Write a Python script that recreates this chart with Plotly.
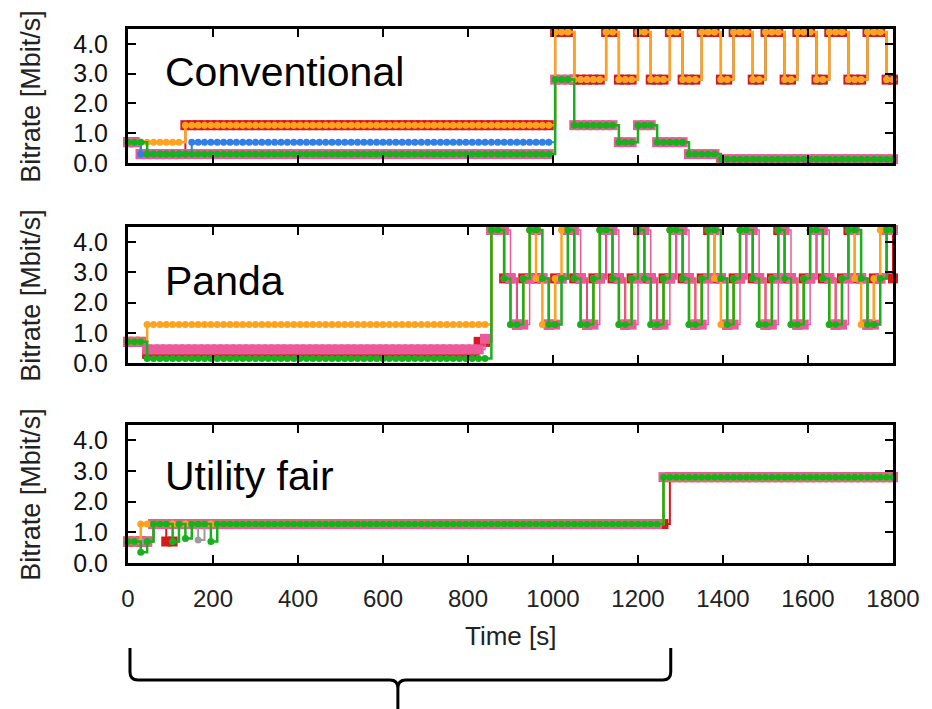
import plotly.graph_objects as go

# ---------------- data (change points: time [s], bitrate [Mbit/s]) -------------
tick_vals_x = [0, 200, 400, 600, 800, 1000, 1200, 1400, 1600, 1800]
tick_vals_y = [0, 1, 2, 3, 4]
tick_text_y = ["0.0", "1.0", "2.0", "3.0", "4.0"]
panel_names = ["Conventional", "Panda", "Utility fair"]

# Conventional
conv_red_t = [0, 30, 125, 1000, 1050, 1115, 1150, 1195, 1225, 1265, 1305, 1350, 1385, 1425, 1460, 1495, 1535, 1575, 1615, 1640, 1690, 1730, 1775]
conv_red_v = [0.7, 0.3, 1.27, 4.4, 2.8, 4.4, 2.8, 4.4, 2.8, 4.4, 2.8, 4.4, 2.8, 4.4, 2.8, 4.4, 2.8, 4.4, 2.8, 4.4, 2.8, 4.4, 2.8]
conv_mag_t = [0, 30, 1000, 1045, 1145, 1195, 1235, 1310, 1390]
conv_mag_v = [0.7, 0.3, 2.8, 1.27, 0.7, 1.27, 0.7, 0.3, 0.13]
conv_blue_t = [0, 30, 140, 1000, 1047, 1114, 1149, 1191, 1222, 1265, 1304, 1347, 1382, 1421, 1460, 1491, 1534, 1573, 1612, 1639, 1686, 1728, 1771]
conv_blue_v = [0.7, 0.3, 0.7, 4.4, 2.8, 4.4, 2.8, 4.4, 2.8, 4.4, 2.8, 4.4, 2.8, 4.4, 2.8, 4.4, 2.8, 4.4, 2.8, 4.4, 2.8, 4.4, 2.8]
conv_orange_t = [0, 125, 1000, 1047, 1114, 1149, 1191, 1222, 1265, 1304, 1347, 1382, 1421, 1460, 1491, 1534, 1573, 1612, 1639, 1686, 1728, 1771]
conv_orange_v = [0.7, 1.27, 4.4, 2.8, 4.4, 2.8, 4.4, 2.8, 4.4, 2.8, 4.4, 2.8, 4.4, 2.8, 4.4, 2.8, 4.4, 2.8, 4.4, 2.8, 4.4, 2.8]
conv_green_t = [0, 35, 1000, 1045, 1145, 1195, 1235, 1310, 1390]
conv_green_v = [0.7, 0.3, 2.8, 1.27, 0.7, 1.27, 0.7, 0.3, 0.13]

# Panda
panda_red_t = [0, 45, 825, 855, 875, 905, 920, 950, 960, 990, 1005, 1035, 1045, 1070, 1090, 1115, 1130, 1160, 1175, 1200, 1210, 1240, 1255, 1280, 1295, 1325, 1340, 1365, 1380, 1410, 1420, 1445, 1460, 1490, 1505, 1530, 1540, 1570, 1585, 1610, 1625, 1655, 1670, 1695, 1710, 1740, 1755, 1780, 1795]
panda_red_v = [0.7, 0.3, 0.7, 4.4, 2.8, 1.27, 2.8, 4.4, 2.8, 1.27, 2.8, 4.4, 2.8, 1.27, 2.8, 4.4, 2.8, 1.27, 2.8, 4.4, 2.8, 1.27, 2.8, 4.4, 2.8, 1.27, 2.8, 4.4, 2.8, 1.27, 2.8, 4.4, 2.8, 1.27, 2.8, 4.4, 2.8, 1.27, 2.8, 4.4, 2.8, 1.27, 2.8, 4.4, 2.8, 1.27, 2.8, 4.4, 2.8]
panda_mag_t = [0, 45, 830, 855, 890, 905, 935, 950, 975, 990, 1020, 1035, 1055, 1070, 1105, 1120, 1145, 1160, 1190, 1205, 1225, 1240, 1270, 1285, 1310, 1325, 1355, 1370, 1395, 1410, 1435, 1450, 1475, 1490, 1520, 1535, 1555, 1570, 1600, 1615, 1640, 1655, 1685, 1700, 1725, 1740, 1770, 1785]
panda_mag_v = [0.7, 0.45, 0.8, 4.4, 2.8, 1.27, 2.8, 4.4, 2.8, 1.27, 2.8, 4.4, 2.8, 1.27, 2.8, 4.4, 2.8, 1.27, 2.8, 4.4, 2.8, 1.27, 2.8, 4.4, 2.8, 1.27, 2.8, 4.4, 2.8, 1.27, 2.8, 4.4, 2.8, 1.27, 2.8, 4.4, 2.8, 1.27, 2.8, 4.4, 2.8, 1.27, 2.8, 4.4, 2.8, 1.27, 2.8, 4.4]
panda_orange_t = [0, 40, 850, 875, 890, 920, 935, 960, 975, 1005, 1020, 1040, 1055, 1090, 1105, 1130, 1145, 1175, 1190, 1210, 1225, 1255, 1270, 1295, 1310, 1340, 1355, 1380, 1395, 1420, 1435, 1460, 1475, 1505, 1520, 1540, 1555, 1585, 1600, 1625, 1640, 1670, 1685, 1710, 1725, 1755, 1770]
panda_orange_v = [0.7, 1.27, 4.4, 2.8, 1.27, 2.8, 4.4, 2.8, 1.27, 2.8, 4.4, 2.8, 1.27, 2.8, 4.4, 2.8, 1.27, 2.8, 4.4, 2.8, 1.27, 2.8, 4.4, 2.8, 1.27, 2.8, 4.4, 2.8, 1.27, 2.8, 4.4, 2.8, 1.27, 2.8, 4.4, 2.8, 1.27, 2.8, 4.4, 2.8, 1.27, 2.8, 4.4, 2.8, 1.27, 2.8, 4.4]
panda_green_t = [0, 40, 850, 880, 895, 925, 940, 965, 980, 1010, 1025, 1045, 1060, 1095, 1110, 1135, 1150, 1180, 1195, 1215, 1230, 1260, 1275, 1300, 1315, 1345, 1360, 1385, 1400, 1425, 1440, 1465, 1480, 1510, 1525, 1545, 1560, 1590, 1605, 1630, 1645, 1675, 1690, 1715, 1730, 1760, 1775]
panda_green_v = [0.7, 0.15, 4.4, 2.8, 1.27, 2.8, 4.4, 2.8, 1.27, 2.8, 4.4, 2.8, 1.27, 2.8, 4.4, 2.8, 1.27, 2.8, 4.4, 2.8, 1.27, 2.8, 4.4, 2.8, 1.27, 2.8, 4.4, 2.8, 1.27, 2.8, 4.4, 2.8, 1.27, 2.8, 4.4, 2.8, 1.27, 2.8, 4.4, 2.8, 1.27, 2.8, 4.4, 2.8, 1.27, 2.8, 4.4]

# Utility fair
uf_red_t = [0, 60, 90, 120, 1265]
uf_red_v = [0.7, 1.27, 0.7, 1.27, 2.8]
uf_mag_t = [0, 55, 1260]
uf_mag_v = [0.7, 1.27, 2.8]
uf_grey_t = [0, 60, 165, 180, 1260]
uf_grey_v = [0.7, 1.27, 0.75, 1.27, 2.8]
uf_orange_t = [0, 25, 1260]
uf_orange_v = [0.7, 1.27, 2.8]
uf_green_t = [0, 30, 45, 60, 105, 120, 135, 150, 195, 210, 1260]
uf_green_v = [0.7, 0.35, 0.7, 1.27, 0.7, 1.27, 0.8, 1.27, 0.7, 1.27, 2.8]

SAMPLE_STEP = 15
T_END = 1800


def expand(change_t, change_v, step=SAMPLE_STEP, end=T_END):
    """Run-length decode the read change points onto the sampling grid."""
    ts = list(range(0, end + 1, step))
    vs = []
    j = 0
    for t in ts:
        while j + 1 < len(change_t) and change_t[j + 1] <= t:
            j += 1
        vs.append(change_v[j])
    return ts, vs


RED = "#d8191c"
MAG = "#ec5a9c"
BLUE = "#2f7fe6"
ORANGE = "#ffa31f"
GREEN = "#19b01d"
GREY = "#9c9c9c"

styles = {
    "red": dict(color=RED, symbol="square", size=10, width=2),
    "mag": dict(color=MAG, symbol="square", size=10, width=1.5),
    "grey": dict(color=GREY, symbol="circle", size=7, width=2),
    "blue": dict(color=BLUE, symbol="circle", size=7, width=2),
    "orange": dict(color=ORANGE, symbol="circle", size=7, width=2.5),
    "green": dict(color=GREEN, symbol="circle", size=7, width=2.5),
}

panels = [
    [("red", conv_red_t, conv_red_v), ("mag", conv_mag_t, conv_mag_v), ("blue", conv_blue_t, conv_blue_v),
     ("orange", conv_orange_t, conv_orange_v), ("green", conv_green_t, conv_green_v)],
    [("red", panda_red_t, panda_red_v), ("mag", panda_mag_t, panda_mag_v),
     ("orange", panda_orange_t, panda_orange_v), ("green", panda_green_t, panda_green_v)],
    [("red", uf_red_t, uf_red_v), ("mag", uf_mag_t, uf_mag_v), ("grey", uf_grey_t, uf_grey_v),
     ("orange", uf_orange_t, uf_orange_v), ("green", uf_green_t, uf_green_v)],
]

# ---------------- layout geometry (pixels) ----------------
W, H = 932, 709
ML, MR, MT, MB = 128, 33, 29, 146
PW = W - ML - MR
PH = H - MT - MB
BOTTOM = MT + PH
panel_px = [(29, 163), (227, 363), (425, 563)]
label_y_px = [72, 281, 476]


def px2paper(x, y):
    return (x - ML) / PW, (BOTTOM - y) / PH


fig = go.Figure()

for i, series in enumerate(panels):
    ax = "" if i == 0 else str(i + 1)
    for key, ct, cv in series:
        st = styles[key]
        xs, ys = expand(ct, cv)
        fig.add_trace(go.Scatter(
            x=xs, y=ys, xaxis="x" + ax, yaxis="y" + ax,
            mode="lines+markers", line=dict(color=st["color"], width=st["width"], shape="hv"),
            marker=dict(color=st["color"], symbol=st["symbol"], size=st["size"]),
            cliponaxis=False, showlegend=False, hoverinfo="skip"))

font_main = "Liberation Sans, Arial, sans-serif"
layout = dict(
    width=W, height=H, margin=dict(l=ML, r=MR, t=MT, b=MB, pad=0),
    paper_bgcolor="white", plot_bgcolor="white", showlegend=False,
    font=dict(family=font_main, color="#111", size=25),
)

annotations = []
for i, (top, bot) in enumerate(panel_px):
    ax = "" if i == 0 else str(i + 1)
    d0 = (BOTTOM - bot) / PH
    d1 = (BOTTOM - top) / PH
    layout["xaxis" + ax] = dict(
        domain=[0, 1], anchor="y" + ax, range=[0, 1800], tickvals=tick_vals_x,
        ticks="inside", ticklen=8, tickwidth=2, tickcolor="black",
        showline=True, linewidth=3, linecolor="black", mirror="ticks",
        showgrid=False, zeroline=False, showticklabels=(i == 2),
        tickfont=dict(size=24, color="#222"), ticklabelstandoff=12)
    layout["yaxis" + ax] = dict(
        domain=[d0, d1], anchor="x" + ax, range=[0, 4.5], tickvals=tick_vals_y, ticktext=tick_text_y,
        ticks="inside", ticklen=8, tickwidth=2, tickcolor="black",
        showline=True, linewidth=3, linecolor="black", mirror="ticks",
        showgrid=False, zeroline=False, tickfont=dict(size=25, color="#111"),
        ticklabelstandoff=12)
    # y-axis title
    annotations.append(dict(
        text="Bitrate [Mbit/s]", textangle=-90, xref="paper", yref="paper",
        x=px2paper(30, 0)[0], y=(d0 + d1) / 2, xanchor="center", yanchor="middle",
        showarrow=False, font=dict(size=27, color="#222")))
    # panel label
    annotations.append(dict(
        text=panel_names[i], xref="paper", yref="paper",
        x=px2paper(163, 0)[0], y=px2paper(0, label_y_px[i])[1], xanchor="left", yanchor="middle",
        showarrow=False, font=dict(size=41, color="black")))

annotations.append(dict(
    text="Time [s]", xref="paper", yref="paper", x=px2paper(514, 0)[0], y=px2paper(0, 636)[1],
    xanchor="center", yanchor="middle", showarrow=False, font=dict(size=26, color="#222")))

layout["annotations"] = annotations

# curly brace under the x axis
pts = {
    "a": (130, 648), "b": (130, 672), "c": (130, 680), "d": (138, 680), "e": (392, 680), "f": (400, 680),
    "g": (400, 688), "h": (400, 709), "i": (408, 680), "j": (667, 680), "k": (675, 680), "l": (675, 672),
    "m": (675, 648),
}


def P(k):
    x, y = px2paper(*pts[k])
    return f"{x:.5f},{y:.5f}"


path = (f"M {P('a')} L {P('b')} Q {P('c')} {P('d')} L {P('e')} Q {P('f')} {P('g')} L {P('h')} "
        f"M {P('g')} Q {P('f')} {P('i')} L {P('j')} Q {P('k')} {P('l')} L {P('m')}")
layout["shapes"] = [dict(type="path", xref="paper", yref="paper", path=path,
                         line=dict(color="black", width=3))]

fig.update_layout(**layout)
fig.write_html("out.html")
